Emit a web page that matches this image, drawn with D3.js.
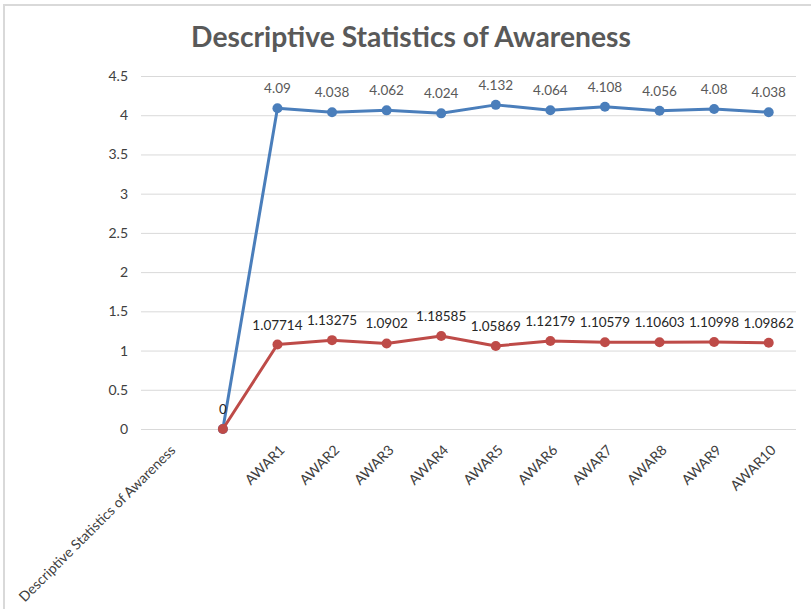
<!DOCTYPE html>
<html>
<head>
<meta charset="utf-8">
<script src="https://cdn.jsdelivr.net/npm/d3@7/dist/d3.min.js"></script>
<style>
  html, body { margin: 0; padding: 0; background: #fff; }
  svg { display: block; }
  text { font-family: Lato, "Open Sans", "Liberation Sans", sans-serif; }
</style>
</head>
<body>
<script>
// Categories along the x axis (the second one is left blank)
const categories = ["Descriptive Statistics of Awareness", "", "AWAR1", "AWAR2", "AWAR3", "AWAR4",
  "AWAR5", "AWAR6", "AWAR7", "AWAR8", "AWAR9", "AWAR10"];
// Mean values (blue series)
const meanValues = [null, 0, 4.09, 4.038, 4.062, 4.024, 4.132, 4.064, 4.108, 4.056, 4.08, 4.038];
// Standard deviations (red series)
const sdValues = [null, 0, 1.07714, 1.13275, 1.0902, 1.18585, 1.05869, 1.12179, 1.10579, 1.10603, 1.10998, 1.09862];
// Y axis ticks
const yTicks = [0, 0.5, 1, 1.5, 2, 2.5, 3, 3.5, 4, 4.5];

const W = 811, H = 609;
const plot = { left: 141, right: 796, top: 76, bottom: 429 };

const svg = d3.select("body").append("svg").attr("width", W).attr("height", H);

// outer chart frame
svg.append("rect").attr("x", 4).attr("y", 5).attr("width", W + 10).attr("height", H + 10)
  .attr("fill", "none").attr("stroke", "#d9d9d9").attr("stroke-width", 2);

const x = d3.scaleBand().domain(d3.range(categories.length)).range([plot.left, plot.right]);
const cx = i => x(i) + x.bandwidth() / 2;
const y = d3.scaleLinear().domain([0, 4.5]).range([plot.bottom, plot.top]);

// gridlines and value axis
const yAxis = d3.axisLeft(y).tickValues(yTicks).tickSize(-(plot.right - plot.left)).tickPadding(13)
  .tickFormat(d => String(d));
const gy = svg.append("g").attr("transform", `translate(${plot.left},0)`).call(yAxis);
gy.select(".domain").remove();
gy.selectAll(".tick line").attr("stroke", "#d9d9d9").attr("stroke-width", 1);
gy.selectAll(".tick text").attr("fill", "#404040").style("font-size", "14px");

// category labels, rotated 45 degrees
const xAxis = d3.axisBottom(x).tickSize(0).tickFormat(i => categories[i]);
const gx = svg.append("g").attr("transform", `translate(0,${plot.bottom})`).call(xAxis);
gx.select(".domain").remove();
gx.selectAll(".tick text")
  .attr("fill", "#404040").style("font-size", "14px")
  .attr("text-anchor", "end")
  .attr("dx", 0).attr("dy", 0)
  .attr("transform", "translate(6,20) rotate(-45)");

// title
const title = svg.append("text").attr("x", 411).attr("y", 47).attr("text-anchor", "middle")
  .attr("fill", "#595959").style("font-weight", "bold").style("font-size", "27px")
  .text("Descriptive Statistics of Awareness");
const tw = title.node().getComputedTextLength();
title.style("font-size", (27 * 440 / tw) + "px");

const line = d3.line().defined(d => d.v !== null).x(d => cx(d.i)).y(d => y(d.v));

function drawSeries(values, color) {
  const pts = values.map((v, i) => ({ v, i }));
  svg.append("path").datum(pts).attr("d", line).attr("fill", "none")
    .attr("stroke", color).attr("stroke-width", 3).attr("stroke-linejoin", "round");
  const valid = pts.filter(d => d.v !== null);
  svg.append("g").selectAll("circle").data(valid).join("circle")
    .attr("cx", d => cx(d.i)).attr("cy", d => y(d.v)).attr("r", 5).attr("fill", color);
  return valid;
}

const bluePts = drawSeries(meanValues, "#4a7ebb");
const redPts = drawSeries(sdValues, "#be4b48");

// value labels
svg.append("g").selectAll("text").data(bluePts.filter(d => d.v !== 0)).join("text")
  .attr("x", d => cx(d.i)).attr("y", d => y(d.v) - 15).attr("text-anchor", "middle")
  .attr("fill", "#595959").style("font-size", "13.5px").text(d => String(d.v));
svg.append("g").selectAll("text").data(redPts).join("text")
  .attr("x", d => cx(d.i)).attr("y", d => y(d.v) - 15).attr("text-anchor", "middle")
  .attr("fill", "#262626").style("font-size", "13.5px").text(d => String(d.v));
</script>
</body>
</html>
